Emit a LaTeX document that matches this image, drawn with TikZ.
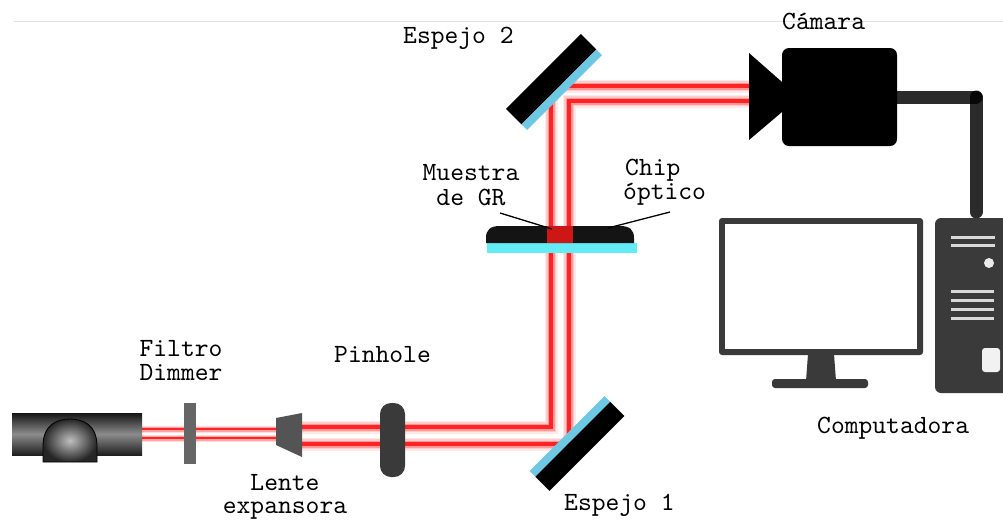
\documentclass[tikz,border=0pt]{standalone}
\usepackage{fontspec}
\setmonofont{lmmono10-regular.otf}
\definecolor{beamred}{RGB}{255,35,35}
\definecolor{mirrorblue}{RGB}{110,200,228}
\definecolor{chipcyan}{RGB}{100,236,245}
\definecolor{samplered}{RGB}{205,22,22}
\definecolor{devgray}{RGB}{58,58,58}
\begin{document}
\begin{tikzpicture}[x=1pt,y=-1pt,
  lbl/.style={font=\fontsize{26.3}{26}\selectfont\ttfamily, inner sep=0pt, anchor=base west},
  lblc/.style={lbl, anchor=base},
  leader/.style={line width=1.3pt, black},
  mirrorback/.style={fill=black},
  mirrorface/.style={fill=mirrorblue},
  cable/.style={line width=13pt, black, opacity=0.83, line cap=round},
  detail/.style={line width=3pt, black!15},
]
\useasboundingbox (0,0) rectangle (1003,520);
\begin{scope}
\clip (0,0) rectangle (1003,520);

% thin rule along the top
\draw[black!12, line width=1pt] (14,21.5) -- (1003,21.5);

% beam path points
\coordinate (lasA) at (142,429);
\coordinate (lasB) at (142,438);
\coordinate (lensinA) at (276,429);
\coordinate (lensinB) at (276,438);
\coordinate (lensA) at (302,427);
\coordinate (lensB) at (302,444);
\coordinate (m1A) at (551,427);
\coordinate (m1B) at (569,444);
\coordinate (m2A) at (551,86);
\coordinate (m2B) at (569,101);
\coordinate (camA) at (754,86);
\coordinate (camB) at (754,101);

% narrow beam between laser and expanding lens
\foreach \w/\c in {7/red!14, 5/red!35, 2.6/beamred}{
  \draw[line width=\w pt, \c] (lasA) -- (lensinA);
  \draw[line width=\w pt, \c] (lasB) -- (lensinB);
}
% expanded beam folded by the two mirrors
\foreach \w/\c in {13/red!9, 10/red!20, 7/red!40, 4/beamred}{
  \draw[line width=\w pt, \c, line join=miter] (lensA) -- (m1A) -- (m2A) -- (camA);
  \draw[line width=\w pt, \c, line join=miter] (lensB) -- (m1B) -- (m2B) -- (camB);
}

% laser
\shade[top color=black!92, bottom color=black!88, middle color=black!45]
  (12,413) rectangle (142,455);
\shade[inner color=black!25, outer color=black!85, draw=black, line width=0.8pt]
  (43,462) -- (43,446) .. controls (43,424) and (58,419) .. (70,419)
  .. controls (82,419) and (97,424) .. (97,446) -- (97,462) -- cycle;

% dimmer filter
\fill[black!60] (184,403) rectangle (196,464);

% expanding lens
\fill[black!67] (276,418) -- (302,413) -- (302,457) -- (276,445) -- cycle;

% pinhole
\fill[devgray, rounded corners=11pt] (380,403) rectangle (405,477);

% mirror 1
\begin{scope}[shift={(577,443.5)}, rotate=45]
  \fill[mirrorface] (-53,-14) rectangle (53,-6);
  \fill[mirrorback] (-53,-6) rectangle (53,14);
\end{scope}

% mirror 2
\begin{scope}[shift={(554,82)}, rotate=45]
  \fill[mirrorback] (-53,-15) rectangle (53,7);
  \fill[mirrorface] (-53,7) rectangle (53,15);
\end{scope}

% optical chip with the graphene sample
\fill[chipcyan] (487,243) rectangle (637,253);
\fill[black!92] (486,243) -- (486,238) .. controls (486,230) and (490,226) .. (500,226)
  -- (620,226) .. controls (630,226) and (634,230) .. (634,238) -- (634,243) -- cycle;
\fill[samplered] (547,226) rectangle (573,243);

% camera and its cable
\coordinate (camport) at (890,97);
\coordinate (bend) at (976,97);
\coordinate (towertop) at (976,212);
\draw[cable] (camport) -- (bend);
\draw[cable] (bend) -- (towertop);
\fill[black] (749,53) -- (782,82) -- (782,112) -- (749,140) -- cycle;
\fill[black, rounded corners=7pt] (782,48) rectangle (897,146);

% monitor
\fill[devgray, rounded corners=3pt] (719,218) rectangle (923,355);
\fill[white] (725,224) rectangle (917,349);
\fill[devgray] (808,354) -- (834,354) -- (836,381) -- (806,381) -- cycle;
\fill[devgray, rounded corners=3pt] (772,379) rectangle (868,388);

% tower
\fill[devgray, rounded corners=6pt] (935,218) rectangle (1015,393);
\draw[detail] (951,237) -- (995,237);
\draw[detail] (951,245) -- (995,245);
\fill[white!92!black] (989,263) circle (5);
\foreach \yy in {291,300,309,318}{\draw[detail] (951,\yy) -- (994,\yy);}
\fill[white!95!black, rounded corners=3pt] (982,348) rectangle (1000,372);
\end{scope}

% labels
\node[lbl] (esp2) at (403,43) {Espejo 2};
\node[lbl] (cam) at (782,29) {Cámara};
\node[lblc] (mues1) at (471,180) {Muestra};
\node[lblc] (mues2) at (471,205) {de GR};
\node[lbl] (chip1) at (625,175) {Chip};
\node[lbl] (chip2) at (623,199) {óptico};
\node[lblc] (filt1) at (181,356) {Filtro};
\node[lblc] (filt2) at (181,380) {Dimmer};
\node[lbl] (pinh) at (334,362) {Pinhole};
\node[lblc] (lente1) at (285,490) {Lente};
\node[lblc] (lente2) at (285,513) {expansora};
\node[lbl] (esp1) at (564,510) {Espejo 1};
\node[lbl] (comp) at (817,433) {Computadora};

% leader lines to the chip
\coordinate (muesend) at (552,229);
\coordinate (chipend) at (608,228);
\draw[leader] (500,213) -- (muesend);
\draw[leader] (670,212) -- (chipend);
\end{tikzpicture}
\end{document}
